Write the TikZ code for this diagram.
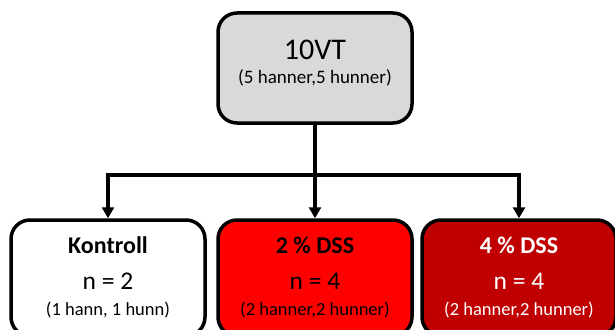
\documentclass[tikz,border=0pt]{standalone}
\usepackage{fontspec}
\setmainfont{Carlito}
\usetikzlibrary{arrows.meta}
\definecolor{boxgray}{HTML}{D9D9D9}
\definecolor{dssred}{HTML}{FF0000}
\definecolor{dssdark}{HTML}{C00000}
\tikzset{
  groupbox/.style={draw=black, line width=3.5pt, rounded corners=19pt,
    minimum width=194pt, minimum height=116pt, inner sep=0pt},
  link/.style={line width=3.3pt, -{Triangle[length=11pt,width=12pt]}},
  title/.style={font=\fontsize{24}{26}\selectfont\bfseries, inner sep=0pt},
  count/.style={font=\fontsize{25.5}{27}\selectfont, inner sep=0pt},
  detail/.style={font=\fontsize{18.5}{20}\selectfont, inner sep=0pt},
}
\begin{document}
\begin{tikzpicture}[x=1pt, y=-1pt]
\useasboundingbox (0,0) rectangle (615,329);
\fill[white] (0,0) rectangle (615,329);

% source group
\node[groupbox, fill=boxgray, minimum height=110pt] (top) at (315,68) {};
\node[font=\fontsize{30}{32}\selectfont, inner sep=0pt] (toplabel) at (315,50) {10VT};
\node[detail, font=\fontsize{19}{21}\selectfont] (topdetail) at (315,78) {(5 hanner,5 hunner)};

% treatment groups (their lower edges run off the page)
\node[groupbox, fill=white] (b1) at (108,278) {};
\node[groupbox, fill=dssred] (b2) at (315,278) {};
\node[groupbox, fill=dssdark] (b3) at (519,278) {};

\node[title] (t1) at (108,245) {Kontroll};
\node[count] (n1) at (108,281) {n = 2};
\node[detail] (d1) at (108,310) {(1 hann, 1 hunn)};

\node[title] (t2) at (315,245) {2 \% DSS};
\node[count] (n2) at (315,281) {n = 4};
\node[detail] (d2) at (315,310) {(2 hanner,2 hunner)};

\node[title, text=white] (t3) at (519,245) {4 \% DSS};
\node[count, text=white] (n3) at (519,281) {n = 4};
\node[detail, text=white] (d3) at (519,310) {(2 hanner,2 hunner)};

% connectors
\coordinate (split) at (315,175);
\draw[link] (top.south) -- (b2.north);
\draw[link] (split) -| (b1.north);
\draw[link] (split) -| (b3.north);
\end{tikzpicture}
\end{document}
